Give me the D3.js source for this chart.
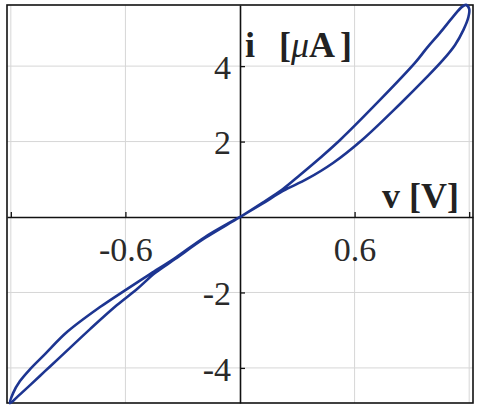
<!DOCTYPE html>
<html>
<head>
<meta charset="utf-8">
<script src="https://cdn.jsdelivr.net/npm/d3@7"></script>
</head>
<body style="margin:0; background:#fff">
<div id="d3-container"></div>
<script>
// chart size and plot box
const width = 478,
  height = 409,
  margin = { top: 5, bottom: 6, left: 7, right: 5 };
const serif = '"Liberation Serif"';

// axis limits and ticks
const vDomain = [-1.22, 1.22];
const iDomain = [-4.93, 5.62];
const vTicks = [-1.2, -0.6, 0.6, 1.2];
const vTickLabels = ["", "-0.6", "0.6", ""];
const iTicks = [-4, -2, 2, 4];
const iTickLabels = ["-4", "-2", "2", "4"];

// pinched hysteresis loop (V, uA)
// origin -> up to +tip -> back to origin -> down to -tip -> back to origin
const voltage = [
  0, 0.115, 0.225, 0.351, 0.487, 0.639, 0.838, 0.969, 1.063, 1.126, 1.170, 1.196, 1.200, 1.183,
  1.162, 1.115, 1.047, 0.979, 0.916, 0.733, 0.524, 0.419, 0.314, 0.225, 0.115, 0,
  -0.183, -0.340, -0.445, -0.539, -0.644, -0.785, -0.942, -1.021, -1.099, -1.162, -1.204,
  -1.188, -1.152, -1.099, -1.021, -0.906, -0.733, -0.592, -0.471, -0.340, -0.183, 0
];
const current = [
  0, 0.345, 0.690, 1.008, 1.432, 2.042, 2.997, 3.660, 4.164, 4.562, 4.960, 5.300, 5.520, 5.623,
  5.570, 5.305, 4.881, 4.483, 4.085, 3.103, 2.042, 1.565, 1.114, 0.743, 0.371, 0,
  -0.557, -1.114, -1.485, -1.910, -2.334, -2.971, -3.714, -4.085, -4.456, -4.748, -4.934,
  -4.668, -4.350, -4.032, -3.634, -3.050, -2.387, -1.910, -1.512, -1.088, -0.531, 0
];

const loop = voltage.map((v, k) => ({ v: v, i: current[k] }));

const xScale = d3.scaleLinear()
  .domain(vDomain)
  .range([margin.left, width - margin.right]);

const yScale = d3.scaleLinear()
  .domain(iDomain)
  .range([height - margin.bottom, margin.top]);

const svg = d3.select("#d3-container")
  .append("svg")
  .attr("width", width)
  .attr("height", height);

// grid
svg.append("g")
  .selectAll("line")
  .data(vTicks)
  .join("line")
  .attr("x1", d => xScale(d)).attr("x2", d => xScale(d))
  .attr("y1", margin.top).attr("y2", height - margin.bottom)
  .attr("stroke", "#d6d6d6").attr("stroke-width", 1);

svg.append("g")
  .selectAll("line")
  .data(iTicks)
  .join("line")
  .attr("x1", margin.left).attr("x2", width - margin.right)
  .attr("y1", d => yScale(d)).attr("y2", d => yScale(d))
  .attr("stroke", "#d6d6d6").attr("stroke-width", 1);

// axes through the origin, ticks pointing in
const xAxis = d3.axisBottom(xScale)
  .tickValues(vTicks)
  .tickSizeInner(-5)
  .tickSizeOuter(0)
  .tickPadding(20)
  .tickFormat((d, k) => vTickLabels[k]);

const yAxis = d3.axisLeft(yScale)
  .tickValues(iTicks)
  .tickSizeInner(-5)
  .tickSizeOuter(0)
  .tickPadding(9)
  .tickFormat((d, k) => iTickLabels[k]);

const gx = svg.append("g")
  .attr("transform", `translate(0, ${yScale(0)})`)
  .call(xAxis);

const gy = svg.append("g")
  .attr("transform", `translate(${xScale(0)}, 0)`)
  .call(yAxis);

[gx, gy].forEach(g => {
  g.attr("font-family", serif).attr("font-size", 34);
  g.select(".domain").attr("stroke", "#111").attr("stroke-width", 1.6);
  g.selectAll(".tick line").attr("stroke", "#111").attr("stroke-width", 1.3);
  g.selectAll(".tick text").attr("fill", "#2a2a2a");
});
gy.selectAll(".tick text").attr("dy", "0.36em");

// box
svg.append("rect")
  .attr("x", margin.left)
  .attr("y", margin.top)
  .attr("width", width - margin.left - margin.right)
  .attr("height", height - margin.top - margin.bottom)
  .attr("fill", "none")
  .attr("stroke", "#111")
  .attr("stroke-width", 1.6);

// curve
const line = d3.line()
  .x(d => xScale(d.v))
  .y(d => yScale(d.i))
  .curve(d3.curveCatmullRom.alpha(0.5));

svg.append("path")
  .datum(loop)
  .attr("d", line)
  .attr("fill", "none")
  .attr("stroke", "#1d3591")
  .attr("stroke-width", 2.6)
  .attr("stroke-linejoin", "round");

// axis labels
const iLabel = svg.append("text")
  .attr("x", xScale(0) + 5)
  .attr("y", 57)
  .attr("fill", "#222")
  .attr("font-family", serif)
  .attr("font-size", 36)
  .attr("font-weight", "bold");
iLabel.append("tspan").text("i");
iLabel.append("tspan").attr("dx", 24).text("[");
iLabel.append("tspan").attr("font-style", "italic").attr("font-weight", "normal").text("\u03bc");
iLabel.append("tspan").text("A");
iLabel.append("tspan").attr("dx", 5).text("]");

svg.append("text")
  .attr("x", 459)
  .attr("y", 208)
  .attr("text-anchor", "end")
  .attr("fill", "#222")
  .attr("font-family", serif)
  .attr("font-size", 36)
  .attr("font-weight", "bold")
  .text("v [V]");
</script>
</body>
</html>
